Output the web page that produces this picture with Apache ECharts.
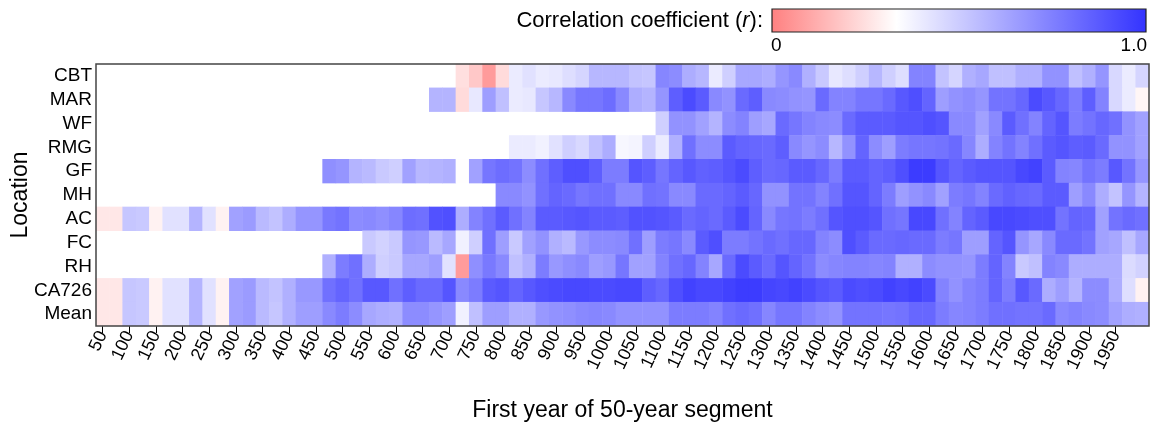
<!DOCTYPE html>
<html>
<head>
<meta charset="utf-8">
<title>Correlation coefficient by location</title>
<script src="https://cdn.jsdelivr.net/npm/echarts@6.0.0/dist/echarts.min.js"></script>
<style>
  html, body { margin: 0; padding: 0; background: #fff; }
  #main { width: 1154px; height: 423px; }
</style>
</head>
<body>
<div id="main"></div>
<script>
// first year of each 50-year segment (25-year step)
const years = [
  '50', '75', '100', '125', '150', '175', '200', '225', '250', '275',
  '300', '325', '350', '375', '400', '425', '450', '475', '500', '525',
  '550', '575', '600', '625', '650', '675', '700', '725', '750', '775',
  '800', '825', '850', '875', '900', '925', '950', '975', '1000', '1025',
  '1050', '1075', '1100', '1125', '1150', '1175', '1200', '1225', '1250', '1275',
  '1300', '1325', '1350', '1375', '1400', '1425', '1450', '1475', '1500', '1525',
  '1550', '1575', '1600', '1625', '1650', '1675', '1700', '1725', '1750', '1775',
  '1800', '1825', '1850', '1875', '1900', '1925', '1950', '1975', '2000'
];

const locations = ['CBT', 'MAR', 'WF', 'RMG', 'GF', 'MH', 'AC', 'FC', 'RH', 'CA726', 'Mean'];

// r per segment, null = no data for that segment
const cbt = [
  null, null, null, null, null, null, null, null, null, null, null, null, null,
  null, null, null, null, null, null, null, null, null, null, null, null, null,
  null, 0.25, 0.19, 0.07, 0.24, 0.40, 0.43, 0.40, 0.41, 0.44, 0.47, 0.57, 0.57,
  0.57, 0.53, 0.52, 0.73, 0.71, 0.60, 0.57, 0.40, 0.49, 0.62, 0.62, 0.60, 0.68,
  0.72, 0.59, 0.51, 0.41, 0.44, 0.49, 0.57, 0.49, 0.44, 0.74, 0.74, 0.53, 0.47,
  0.59, 0.62, 0.54, 0.54, 0.59, 0.59, 0.69, 0.69, 0.54, 0.59, 0.68, 0.46, 0.40,
  0.47
];
const mar = [
  null, null, null, null, null, null, null, null, null, null, null, null, null,
  null, null, null, null, null, null, null, null, null, null, null, null, 0.58,
  0.58, 0.24, 0.41, 0.65, 0.54, 0.40, 0.41, 0.52, 0.57, 0.72, 0.78, 0.78, 0.81,
  0.72, 0.60, 0.58, 0.68, 0.86, 0.92, 0.87, 0.72, 0.69, 0.82, 0.86, 0.72, 0.71,
  0.69, 0.68, 0.82, 0.74, 0.74, 0.78, 0.78, 0.82, 0.88, 0.91, 0.84, 0.65, 0.69,
  0.71, 0.68, 0.79, 0.79, 0.83, 0.92, 0.88, 0.83, 0.76, 0.86, 0.74, 0.46, 0.40,
  0.31
];
const wf = [
  null, null, null, null, null, null, null, null, null, null, null, null, null,
  null, null, null, null, null, null, null, null, null, null, null, null, null,
  null, null, null, null, null, null, null, null, null, null, null, null, null,
  null, null, null, 0.49, 0.69, 0.69, 0.64, 0.58, 0.71, 0.74, 0.65, 0.62, 0.82,
  0.78, 0.74, 0.72, 0.71, 0.82, 0.87, 0.87, 0.87, 0.89, 0.89, 0.91, 0.89, 0.72,
  0.72, 0.64, 0.72, 0.87, 0.80, 0.74, 0.84, 0.89, 0.76, 0.79, 0.83, 0.80, 0.69,
  0.64
];
const rmg = [
  null, null, null, null, null, null, null, null, null, null, null, null, null,
  null, null, null, null, null, null, null, null, null, null, null, null, null,
  null, null, null, null, null, 0.40, 0.40, 0.38, 0.43, 0.49, 0.46, 0.54, 0.60,
  0.36, 0.37, 0.49, 0.40, 0.59, 0.80, 0.71, 0.71, 0.87, 0.84, 0.83, 0.82, 0.86,
  0.72, 0.68, 0.71, 0.57, 0.69, 0.84, 0.71, 0.65, 0.76, 0.78, 0.78, 0.79, 0.82,
  0.73, 0.60, 0.74, 0.79, 0.74, 0.80, 0.87, 0.89, 0.86, 0.87, 0.82, 0.69, 0.69,
  0.64
];
const gf = [
  null, null, null, null, null, null, null, null, null, null, null, null, null,
  null, null, null, null, 0.70, 0.68, 0.58, 0.56, 0.51, 0.49, 0.64, 0.57, 0.58,
  0.59, 0.33, 0.64, 0.78, 0.81, 0.79, 0.71, 0.80, 0.86, 0.91, 0.91, 0.86, 0.76,
  0.76, 0.89, 0.86, 0.78, 0.84, 0.88, 0.85, 0.86, 0.89, 0.92, 0.86, 0.82, 0.83,
  0.87, 0.87, 0.83, 0.76, 0.87, 0.87, 0.84, 0.86, 0.91, 0.97, 0.97, 0.89, 0.84,
  0.87, 0.89, 0.89, 0.89, 0.93, 0.95, 0.87, 0.74, 0.73, 0.79, 0.76, 0.88, 0.79,
  0.68
];
const mh = [
  null, null, null, null, null, null, null, null, null, null, null, null, null,
  null, null, null, null, null, null, null, null, null, null, null, null, null,
  null, null, null, null, 0.72, 0.72, 0.69, 0.80, 0.84, 0.82, 0.78, 0.80, 0.80,
  0.72, 0.72, 0.80, 0.79, 0.72, 0.72, 0.82, 0.82, 0.84, 0.87, 0.83, 0.69, 0.69,
  0.79, 0.79, 0.74, 0.80, 0.89, 0.89, 0.84, 0.76, 0.65, 0.69, 0.72, 0.64, 0.76,
  0.78, 0.74, 0.82, 0.85, 0.83, 0.82, 0.87, 0.87, 0.65, 0.72, 0.60, 0.53, 0.68,
  0.58
];
const ac = [
  0.27, 0.27, 0.52, 0.51, 0.30, 0.43, 0.43, 0.58, 0.43, 0.30, 0.64, 0.66, 0.56,
  0.53, 0.60, 0.68, 0.68, 0.77, 0.79, 0.71, 0.72, 0.70, 0.73, 0.81, 0.80, 0.90,
  0.91, 0.60, 0.74, 0.80, 0.87, 0.80, 0.74, 0.87, 0.87, 0.88, 0.89, 0.87, 0.87,
  0.86, 0.90, 0.90, 0.89, 0.87, 0.82, 0.84, 0.82, 0.87, 0.92, 0.84, 0.72, 0.78,
  0.79, 0.76, 0.80, 0.89, 0.91, 0.91, 0.89, 0.80, 0.78, 0.93, 0.93, 0.80, 0.74,
  0.84, 0.87, 0.93, 0.93, 0.92, 0.91, 0.91, 0.79, 0.84, 0.83, 0.64, 0.79, 0.82,
  0.80
];
const fc = [
  null, null, null, null, null, null, null, null, null, null, null, null, null,
  null, null, null, null, null, null, null, 0.51, 0.48, 0.51, 0.68, 0.67, 0.56,
  0.62, 0.38, 0.49, 0.80, 0.65, 0.51, 0.64, 0.69, 0.59, 0.56, 0.67, 0.71, 0.71,
  0.72, 0.80, 0.65, 0.76, 0.78, 0.72, 0.87, 0.91, 0.76, 0.76, 0.79, 0.82, 0.80,
  0.83, 0.83, 0.74, 0.71, 0.91, 0.87, 0.82, 0.82, 0.83, 0.82, 0.82, 0.76, 0.78,
  0.65, 0.65, 0.84, 0.89, 0.68, 0.62, 0.72, 0.82, 0.82, 0.79, 0.64, 0.62, 0.54,
  0.62
];
const rh = [
  null, null, null, null, null, null, null, null, null, null, null, null, null,
  null, null, null, null, 0.59, 0.76, 0.80, 0.60, 0.49, 0.51, 0.62, 0.62, 0.65,
  0.43, 0.07, 0.70, 0.77, 0.72, 0.54, 0.59, 0.76, 0.67, 0.70, 0.72, 0.65, 0.67,
  0.78, 0.64, 0.64, 0.74, 0.80, 0.83, 0.74, 0.62, 0.82, 0.92, 0.87, 0.82, 0.89,
  0.84, 0.79, 0.71, 0.73, 0.74, 0.74, 0.73, 0.74, 0.59, 0.59, 0.71, 0.69, 0.69,
  0.68, 0.76, 0.84, 0.74, 0.51, 0.54, 0.74, 0.72, 0.60, 0.60, 0.60, 0.60, 0.45,
  0.48
];
const ca726 = [
  0.27, 0.27, 0.52, 0.51, 0.30, 0.43, 0.43, 0.58, 0.43, 0.30, 0.64, 0.66, 0.56,
  0.53, 0.59, 0.67, 0.67, 0.80, 0.84, 0.80, 0.88, 0.88, 0.80, 0.86, 0.82, 0.82,
  0.89, 0.72, 0.76, 0.87, 0.89, 0.84, 0.88, 0.91, 0.92, 0.93, 0.93, 0.92, 0.92,
  0.93, 0.93, 0.86, 0.83, 0.91, 0.95, 0.93, 0.93, 0.95, 0.97, 0.97, 0.94, 0.93,
  0.95, 0.92, 0.89, 0.87, 0.92, 0.91, 0.92, 0.95, 0.93, 0.95, 0.92, 0.74, 0.69,
  0.74, 0.76, 0.84, 0.76, 0.88, 0.82, 0.60, 0.65, 0.58, 0.71, 0.71, 0.60, 0.44,
  0.30
];
const mean = [
  0.27, 0.27, 0.52, 0.51, 0.30, 0.43, 0.43, 0.58, 0.43, 0.30, 0.64, 0.66, 0.56,
  0.52, 0.59, 0.65, 0.65, 0.72, 0.76, 0.71, 0.62, 0.60, 0.59, 0.71, 0.71, 0.68,
  0.65, 0.38, 0.54, 0.65, 0.65, 0.59, 0.59, 0.67, 0.69, 0.70, 0.72, 0.73, 0.72,
  0.69, 0.69, 0.69, 0.69, 0.76, 0.76, 0.76, 0.74, 0.80, 0.82, 0.80, 0.73, 0.78,
  0.78, 0.74, 0.71, 0.69, 0.79, 0.79, 0.79, 0.78, 0.79, 0.83, 0.83, 0.76, 0.73,
  0.74, 0.76, 0.80, 0.80, 0.79, 0.79, 0.82, 0.72, 0.74, 0.72, 0.71, 0.64, 0.60,
  0.59
];

const rows = [cbt, mar, wf, rmg, gf, mh, ac, fc, rh, ca726, mean];

// red -> white (at 1/3) -> blue
const scaleColors = ['#ff8080', '#ffffff', '#9999ff', '#3333ff'];
const font = '"Liberation Sans", Arial, Helvetica, sans-serif';

const data = [];
rows.forEach((row, y) => {
  row.forEach((v, x) => {
    if (v !== null) data.push([x, y, v]);
  });
});

// label / tick every 50 years, up to 1950
const labelEvery = (idx) => idx % 2 === 0 && idx <= 76;

const chart = echarts.init(document.getElementById('main'));

const barGradient = new echarts.graphic.LinearGradient(0, 0, 1, 0,
  scaleColors.map((c, i) => ({ offset: i / (scaleColors.length - 1), color: c })));

chart.setOption({
  animation: false,
  grid: { left: 96, top: 64, width: 1053, height: 262, containLabel: false, outerBoundsMode: 'none' },
  xAxis: {
    type: 'category',
    data: years,
    name: 'First year of 50-year segment',
    nameLocation: 'middle',
    nameGap: 73,
    nameMoveOverlap: false,
    nameTextStyle: { fontSize: 23, color: '#000', fontFamily: font },
    axisLine: { show: false },
    axisTick: {
      show: true, alignWithLabel: true, interval: labelEvery, length: 7,
      lineStyle: { color: '#000', width: 1 }
    },
    axisLabel: { interval: labelEvery, rotate: 65, fontSize: 18, color: '#000', margin: 6, fontFamily: font },
    splitLine: { show: false }
  },
  yAxis: {
    type: 'category',
    data: locations,
    inverse: true,
    name: 'Location',
    nameLocation: 'middle',
    nameGap: 64,
    nameRotate: 90,
    nameMoveOverlap: false,
    nameTextStyle: { fontSize: 23, color: '#000', fontFamily: font },
    axisLine: { show: false },
    axisTick: { show: false },
    axisLabel: { interval: 0, fontSize: 19, color: '#000', margin: 4, fontFamily: font },
    splitLine: { show: false }
  },
  visualMap: {
    show: false,
    type: 'continuous',
    min: 0,
    max: 1,
    dimension: 2,
    inRange: { color: scaleColors }
  },
  series: [{
    type: 'heatmap',
    data: data,
    itemStyle: { borderWidth: 0 },
    emphasis: { disabled: true },
    progressive: 0
  }],
  graphic: [
    // frame round the plot
    {
      type: 'rect', silent: true, z: 100,
      shape: { x: 96, y: 64, width: 1053, height: 262 },
      style: { fill: 'none', stroke: '#444', lineWidth: 1.5 }
    },
    // colour bar
    {
      type: 'rect', silent: true, z: 100,
      shape: { x: 772, y: 9, width: 374, height: 23 },
      style: { fill: barGradient, stroke: '#222', lineWidth: 1.2 }
    },
    {
      type: 'text', silent: true, z: 100, x: 763, y: 21,
      style: {
        text: 'Correlation coefficient ({i|r}):',
        fontSize: 22, fontFamily: font, fill: '#000',
        align: 'right', verticalAlign: 'middle',
        rich: { i: { fontStyle: 'italic', fontSize: 22, fontFamily: font, fill: '#000' } }
      }
    },
    {
      type: 'text', silent: true, z: 100, x: 771, y: 46,
      style: { text: '0', fontSize: 19, fontFamily: font, fill: '#000', align: 'left', verticalAlign: 'middle' }
    },
    {
      type: 'text', silent: true, z: 100, x: 1147, y: 46,
      style: { text: '1.0', fontSize: 19, fontFamily: font, fill: '#000', align: 'right', verticalAlign: 'middle' }
    }
  ]
});
</script>
</body>
</html>
